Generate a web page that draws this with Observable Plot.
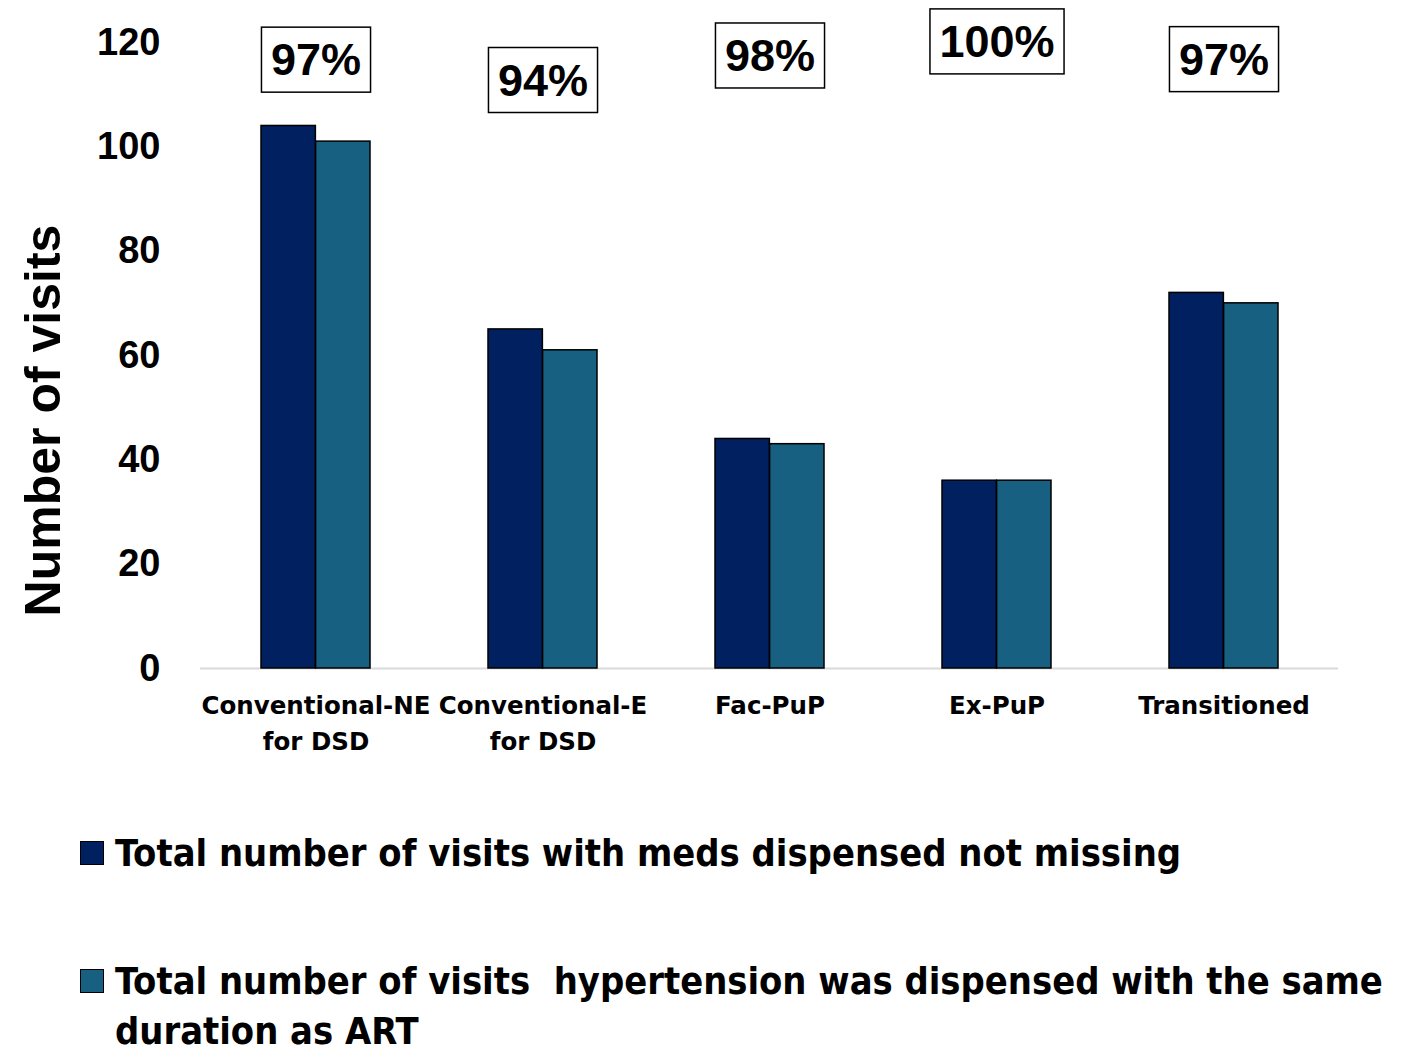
<!DOCTYPE html>
<html>
<head>
<meta charset="utf-8">
<script src="https://cdn.jsdelivr.net/npm/d3@7"></script>
<script src="https://cdn.jsdelivr.net/npm/@observablehq/plot@0.6"></script>
<style>
  html, body { margin: 0; padding: 0; background: #fff; }
  #chart svg { display: block; overflow: visible; }
  .legend { padding-top: 60px; padding-left: 80px; font-family: "DejaVu Sans Condensed", "DejaVu Sans", sans-serif; font-stretch: condensed; font-weight: bold; font-size: 37.7px; color: #000; }
  .item { display: flex; align-items: flex-start; line-height: 50px; }
  .item + .item { margin-top: 78px; }
  .sw { flex: none; width: 22px; height: 22px; border: 1.5px solid #000; margin-top: 13px; margin-right: 11px; }
  .lt { white-space: pre-wrap; }
</style>
</head>
<body>
<div id="chart"></div>
<div class="legend">
  <div class="item"><span class="sw" style="background:#00205f"></span><span class="lt" id="l1"></span></div>
  <div class="item"><span class="sw" style="background:#176082"></span><span class="lt" id="l2"></span></div>
</div>
<script>
const categories = ["Conventional-NE\nfor DSD", "Conventional-E\nfor DSD", "Fac-PuP", "Ex-PuP", "Transitioned"];
const totalVisits = [104, 65, 44, 36, 72];
const sameDuration = [101, 61, 43, 36, 70];
const percentLabels = ["97%", "94%", "98%", "100%", "97%"];
const percentLabelAt = [116.5, 112.6, 117.3, 120, 116.6];
const yTicks = [0, 20, 40, 60, 80, 100, 120];
const seriesNames = [
  "Total number of visits with meds dispensed not missing",
  "Total number of visits  hypertension was dispensed with the same\nduration as ART"
];
const seriesColors = ["#00205f", "#176082"];

document.getElementById("l1").textContent = seriesNames[0];
document.getElementById("l2").textContent = seriesNames[1];

const W = 1407, H = 768;
const mL = 200, mR = 69, mT = 42, mB = 100;
const xOpts = {type: "band", domain: categories, range: [mL, W - mR], paddingInner: 0.52, paddingOuter: 0.26};
const half = Plot.scale({x: xOpts}).bandwidth / 2;

const rows1 = categories.map((c, i) => ({c, v: totalVisits[i]}));
const rows2 = categories.map((c, i) => ({c, v: sameDuration[i]}));
const labels = categories.map((c, i) => ({c, y: percentLabelAt[i], t: percentLabels[i]}));

const chart = Plot.plot({
  width: W, height: H,
  marginLeft: mL, marginRight: mR, marginTop: mT, marginBottom: mB,
  style: {fontFamily: "Liberation Sans, Arial, sans-serif", color: "#000", background: "#fff", overflow: "visible"},
  x: {domain: categories, paddingInner: 0.52, paddingOuter: 0.26, label: null},
  y: {domain: [0, 120], label: null},
  marks: [
    Plot.ruleY([0], {stroke: "#d9d9d9", strokeWidth: 2}),
    Plot.barY(rows1, {x: "c", y: "v", fill: seriesColors[0], stroke: "#000", strokeWidth: 1.5, insetRight: half}),
    Plot.barY(rows2, {x: "c", y: "v", fill: seriesColors[1], stroke: "#000", strokeWidth: 1.5, insetLeft: half}),
    Plot.axisY({ticks: yTicks, tickSize: 0, tickPadding: 40, fontSize: 38, fontWeight: "bold", label: null, fontFamily: "Liberation Sans, Arial, sans-serif"}),
    Plot.axisX({tickSize: 0, tickPadding: 20, fontSize: 24.5, fontWeight: "bold", lineHeight: 1.47, label: null, fontFamily: "DejaVu Sans, sans-serif"}),
    Plot.text(["Number of visits"], {frameAnchor: "left", textAnchor: "middle", rotate: -90, dx: -157, dy: 65, fontSize: 50, fontWeight: "bold", fontFamily: "Liberation Sans, Arial, sans-serif", fill: "#000"}),
    Plot.text(labels, {x: "c", y: "y", text: "t", fontSize: 45, fontWeight: "bold", fill: "#000", fontFamily: "Liberation Sans, Arial, sans-serif", className: "pct"})
  ]
});
document.getElementById("chart").append(chart);

// draw a box around each percentage label
const pctTexts = chart.querySelectorAll(".pct text");
pctTexts.forEach(t => {
  const b = t.getBBox();
  const r = document.createElementNS("http://www.w3.org/2000/svg", "rect");
  const px = 9.5, py = 9;
  r.setAttribute("x", b.x - px);
  r.setAttribute("y", b.y - py + 2);
  r.setAttribute("width", b.width + 2 * px);
  r.setAttribute("height", b.height + 2 * py - 4);
  r.setAttribute("fill", "#fff");
  r.setAttribute("stroke", "#000");
  r.setAttribute("stroke-width", "1.5");
  const tf = t.getAttribute("transform");
  if (tf) r.setAttribute("transform", tf);
  t.parentNode.insertBefore(r, t);
});
</script>
</body>
</html>
